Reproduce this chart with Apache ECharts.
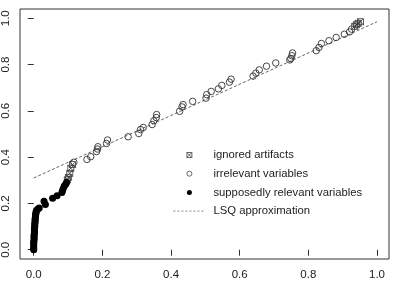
<!DOCTYPE html>
<html>
<head>
<meta charset="utf-8">
<script src="https://cdn.jsdelivr.net/npm/echarts@6/dist/echarts.min.js"></script>
<style>
html,body{margin:0;padding:0;background:#fff;}
#chart{width:399px;height:281px;}
</style>
</head>
<body>
<div id="chart"></div>
<script>
// ---- data ----
var tickValues = [0, 0.2, 0.4, 0.6, 0.8, 1.0];

var relevantX = [0,0,0,0,0,0,0.001,0.001,0.001,0.001,0.002,0.002,0.002,0.002,0.003,0.003,0.003,0.004,0.004,0.004,0.005,0.005,0.006,0.006,0.007,0.008,0.012,0.016,0.034,0.030,0.055,0.068,0.082,0.084,0.086,0.089,0.093,0.096];
var relevantY = [0.0,0.005,0.012,0.02,0.028,0.035,0.042,0.05,0.057,0.064,0.071,0.078,0.085,0.092,0.099,0.106,0.113,0.12,0.127,0.133,0.14,0.146,0.152,0.158,0.164,0.17,0.176,0.18,0.195,0.21,0.222,0.233,0.247,0.256,0.265,0.275,0.283,0.292];

var ignoredX = [0.098, 0.101, 0.105, 0.108, 0.113, 0.935, 0.94, 0.945, 0.952];
var ignoredY = [0.302, 0.313, 0.33, 0.352, 0.368, 0.965, 0.972, 0.978, 0.985];

var irrelevantX = [0.117,0.155,0.166,0.183,0.186,0.187,0.212,0.215,0.275,0.306,0.311,0.319,0.345,0.35,0.357,0.358,0.425,0.432,0.435,0.463,0.502,0.504,0.517,0.538,0.548,0.57,0.575,0.639,0.647,0.657,0.678,0.705,0.746,0.749,0.752,0.754,0.823,0.831,0.838,0.86,0.881,0.905,0.92,0.926];
var irrelevantY = [0.378,0.39,0.402,0.424,0.435,0.445,0.459,0.474,0.488,0.502,0.519,0.528,0.541,0.557,0.571,0.584,0.598,0.617,0.627,0.641,0.655,0.67,0.684,0.695,0.71,0.724,0.737,0.75,0.763,0.777,0.793,0.807,0.82,0.826,0.838,0.85,0.86,0.874,0.891,0.903,0.917,0.931,0.941,0.953];

var lsqX = [0, 1];
var lsqY = [0.31, 0.985];

var seriesNames = ['ignored artifacts', 'irrelevant variables', 'supposedly relevant variables', 'LSQ approximation'];

function zip(xs, ys) { return xs.map(function (x, i) { return [x, ys[i]]; }); }

var crossSquare = 'path://M0,0H10V10H0ZM0,0L10,10M10,0L0,10';
var font = 'Liberation Sans, Arial, sans-serif';

var chart = echarts.init(document.getElementById('chart'), null, {renderer: 'canvas'});
chart.setOption({
  animation: false,
  backgroundColor: '#fff',
  grid: {left: 19, top: 9, right: 10, bottom: 20, show: true, borderColor: '#333', borderWidth: 1, backgroundColor: 'transparent'},
  xAxis: {
    type: 'value', min: -0.04, max: 1.035,
    axisLine: {show: false},
    splitLine: {show: false},
    axisTick: {show: true, inside: false, length: 6, lineStyle: {color: '#333'}, customValues: tickValues},
    axisLabel: {customValues: tickValues, margin: 10, color: '#222', fontFamily: font, fontSize: 11.5,
      formatter: function (v) { return v.toFixed(1); }}
  },
  yAxis: {
    type: 'value', min: -0.04, max: 1.04,
    axisLine: {show: false},
    splitLine: {show: false},
    axisTick: {show: true, inside: false, length: 6, lineStyle: {color: '#333'}, customValues: tickValues},
    axisLabel: {customValues: tickValues, margin: 8, rotate: 90, color: '#222', fontFamily: font, fontSize: 11.5,
      formatter: function (v) { return v.toFixed(1); }}
  },
  legend: {
    orient: 'vertical', left: 168, top: 143,
    itemWidth: 32, itemHeight: 5, itemGap: 4.7,
    textStyle: {color: '#222', fontFamily: font, fontSize: 11.3, lineHeight: 14, padding: [0, 0, 0, 3]},
    data: [
      {name: seriesNames[0], icon: crossSquare, itemStyle: {color: 'rgba(0,0,0,0)', borderColor: '#444', borderWidth: 0.8}},
      {name: seriesNames[1], icon: 'circle', itemStyle: {color: 'rgba(0,0,0,0)', borderColor: '#444', borderWidth: 0.8}},
      {name: seriesNames[2], icon: 'circle', itemStyle: {color: '#000'}},
      {name: seriesNames[3], itemStyle: {opacity: 0}, lineStyle: {color: '#666', width: 0.8, type: [2, 2]}}
    ]
  },
  series: [
    {
      name: seriesNames[3], type: 'line', data: zip(lsqX, lsqY), symbol: 'none', z: 1,
      lineStyle: {color: '#555', width: 0.9, type: [3, 2]}
    },
    {
      name: seriesNames[0], type: 'scatter', data: zip(ignoredX, ignoredY), symbol: crossSquare, symbolSize: 6, symbolKeepAspect: true, z: 3,
      itemStyle: {color: 'rgba(0,0,0,0)', borderColor: '#333', borderWidth: 0.8, opacity: 1}
    },
    {
      name: seriesNames[1], type: 'scatter', data: zip(irrelevantX, irrelevantY), symbol: 'circle', symbolSize: 6.5, z: 3,
      itemStyle: {color: 'rgba(0,0,0,0)', borderColor: '#333', borderWidth: 0.9, opacity: 1}
    },
    {
      name: seriesNames[2], type: 'scatter', data: zip(relevantX, relevantY), symbol: 'circle', symbolSize: 7, z: 3,
      itemStyle: {color: '#000', opacity: 1}
    }
  ]
});
</script>
</body>
</html>
